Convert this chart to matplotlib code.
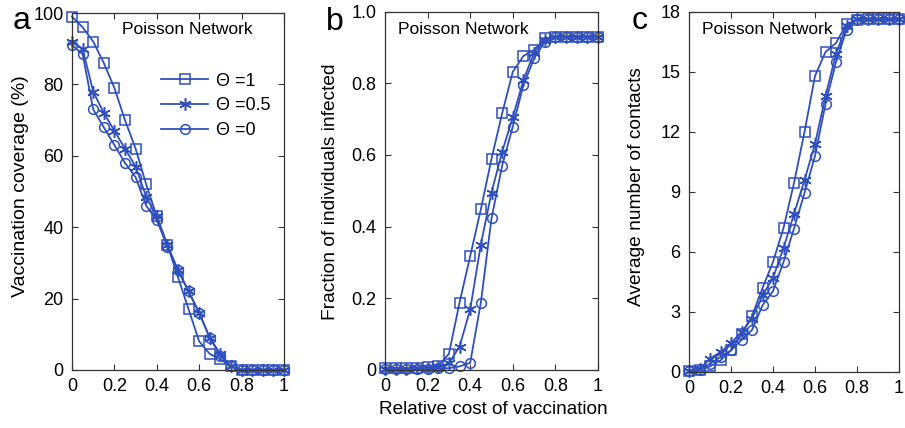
import numpy as np
import matplotlib
matplotlib.use('Agg')
import matplotlib.pyplot as plt

plt.rcParams['font.family'] = ['Liberation Sans', 'DejaVu Sans']

cost = np.round(np.arange(0, 1.0001, 0.05), 2)

# a: vaccination coverage (%)
cov_t1 = [99, 96, 92, 86, 79, 70, 62, 52, 43, 35, 26, 17, 8, 4.5, 3, 1, 0, 0, 0, 0, 0]
cov_t05 = [92, 90, 78, 72, 67, 62, 57, 48.5, 43, 35, 28, 22, 16, 9, 4.5, 1, 0, 0, 0, 0, 0]
cov_t0 = [91, 88.5, 73, 68, 63, 58, 54, 46, 42, 34.5, 28, 22, 16, 9, 4, 1, 0, 0, 0, 0, 0]

# b: fraction infected
inf_t1 = [0.005, 0.005, 0.005, 0.006, 0.008, 0.012, 0.045, 0.188, 0.318, 0.448, 0.589,
          0.716, 0.832, 0.876, 0.893, 0.925, 0.93, 0.93, 0.93, 0.93, 0.93]
inf_t05 = [0.004, 0.004, 0.004, 0.005, 0.006, 0.008, 0.019, 0.065, 0.169, 0.35, 0.495,
           0.609, 0.705, 0.809, 0.885, 0.92, 0.93, 0.93, 0.93, 0.93, 0.93]
inf_t0 = [0.003, 0.003, 0.003, 0.004, 0.004, 0.005, 0.005, 0.01, 0.02, 0.188, 0.423,
          0.57, 0.679, 0.795, 0.869, 0.916, 0.93, 0.93, 0.93, 0.93, 0.93]

# c: average number of contacts
con_t1 = [0.05, 0.1, 0.28, 0.58, 1.08, 1.9, 2.8, 4.2, 5.5, 7.2, 9.45, 12.0, 14.8, 16.0,
          16.45, 17.4, 17.6, 17.65, 17.65, 17.65, 17.65]
con_t05 = [0.05, 0.15, 0.67, 1.0, 1.45, 2.0, 2.67, 3.83, 4.7, 6.2, 7.9, 9.6, 11.4, 13.8,
           15.9, 17.3, 17.65, 17.65, 17.65, 17.65, 17.65]
con_t0 = [0.05, 0.1, 0.42, 0.75, 1.08, 1.6, 2.1, 3.33, 4.05, 5.5, 7.17, 8.95, 10.8, 13.4,
          15.5, 17.1, 17.65, 17.65, 17.65, 17.65, 17.65]

labels = ['\u0398 =1', '\u0398 =0.5', '\u0398 =0']
markers = ['s', (6, 2, 0), 'o']
color = '#2f4fbf'

W, H = 905, 428
fig = plt.figure(figsize=(W / 100, H / 100), dpi=100)

def px_axes(x0, x1, y0, y1):
    return fig.add_axes([x0 / W, (H - y1) / H, (x1 - x0) / W, (y1 - y0) / H])

ax_a = px_axes(72, 284, 13, 370)
ax_b = px_axes(385, 598, 11.5, 370)
ax_c = px_axes(689, 899, 12, 372)

# (axes, series, ylim, yticks, yticklabels, ylabel, ylabel size, ylabel px pos, letter, letter pos, text x)
panels = [
    (ax_a, [cov_t1, cov_t05, cov_t0], (0, 100), [0, 20, 40, 60, 80, 100], None,
     'Vaccination coverage (%)', 14, (21, 186), 'a', (22, 21), 122),
    (ax_b, [inf_t1, inf_t05, inf_t0], (0, 1), [0, 0.2, 0.4, 0.6, 0.8, 1.0],
     ['0', '0.2', '0.4', '0.6', '0.8', '1.0'], 'Fraction of individuals infected', 13.8,
     (330, 192), 'b', (335, 22), 398),
    (ax_c, [con_t1, con_t05, con_t0], (0, 18), [0, 3, 6, 9, 12, 15, 18], None,
     'Average number of contacts', 13.8, (636, 187), 'c', (640, 21), 702),
]

for ax, series, ylim, yt, ytl, ylab, ylsize, ylpos, letter, lpos, tx in panels:
    for s, m, lab in zip(series, markers, labels):
        ms = 9 if m != 's' and m != 'o' else 7
        ax.plot(cost, s, marker=m, color=color, mfc='none', mec=color, ms=ms,
                lw=1.3, mew=1.1, label=lab, clip_on=False)
    ax.set_xlim(0, 1)
    ax.set_ylim(*ylim)
    ax.set_xticks([0, 0.2, 0.4, 0.6, 0.8, 1])
    ax.set_xticklabels(['0', '0.2', '0.4', '0.6', '0.8', '1'])
    ax.set_yticks(yt)
    if ytl:
        ax.set_yticklabels(ytl)
    ax.tick_params(direction='in', top=True, right=True, labelsize=13, length=4,
                   width=0.8, color='#333333', pad=6)
    for sp in ax.spines.values():
        sp.set_color('#333333')
        sp.set_linewidth(0.9)
    fig.text(ylpos[0] / W, (H - ylpos[1]) / H, ylab, rotation=90, fontsize=ylsize,
             ha='center', va='center')
    fig.text(tx / W, (H - 30) / H, 'Poisson Network', fontsize=12.5, ha='left',
             va='center')
    fig.text(lpos[0] / W, (H - lpos[1]) / H, letter, fontsize=23, ha='center',
             va='center')

ax_a.legend(loc='upper left', bbox_to_anchor=(0.345, 0.878), frameon=False, fontsize=13,
            handlelength=2.6, labelspacing=0.42, handletextpad=0.4)

fig.text(493 / W, (H - 410) / H, 'Relative cost of vaccination', fontsize=13.7,
         ha='center', va='center')

fig.savefig('out.png', dpi=100)
